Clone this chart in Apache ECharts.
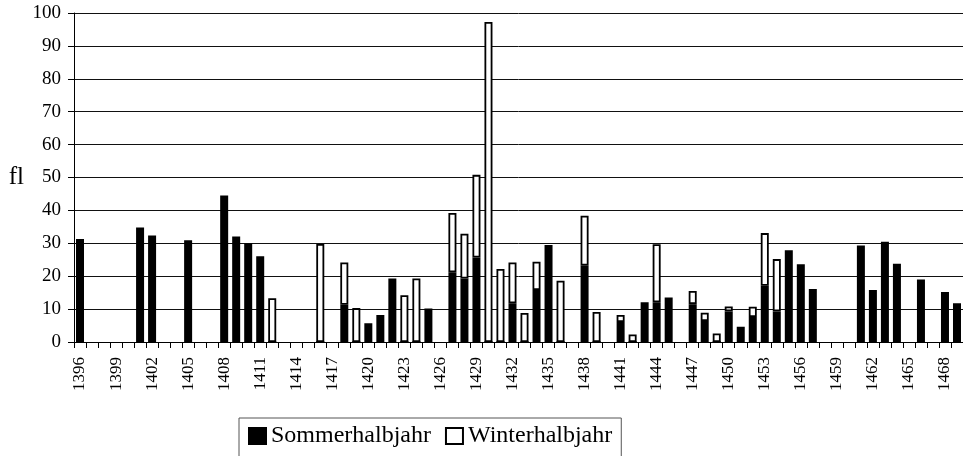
<!DOCTYPE html>
<html>
<head>
<meta charset="utf-8">
<script src="https://cdn.jsdelivr.net/npm/echarts@6/dist/echarts.min.js"></script>
<style>
html,body{margin:0;padding:0;background:#fff;}
#c{width:963px;height:456px;}
</style>
</head>
<body>
<div id="c"></div>
<script>
var years = [];
for (var y = 1396; y <= 1469; y++) years.push(String(y));

var sommer = [
  31.3, null, null, null, null, 34.8, 32.4, null, null, 30.9,
  null, null, 44.5, 32.1, 30.0, 26.1, 0, null, null, null,
  0, null, 11.3, 0, 5.7, 8.2, 19.3, 0, 0, 10.2,
  null, 21.2, 19.3, 25.7, 0, 0, 11.8, 0, 15.8, 29.5,
  0, null, 23.2, 0, null, 6.1, 0, 12.1, 12.1, 13.5,
  null, 11.5, 6.4, 0, 9.3, 4.6, 7.6, 17.1, 9.3, 27.9,
  23.6, 16.1, null, null, null, 29.3, 15.8, 30.5, 23.8, null,
  19.0, null, 15.2, 11.8
];
var winter = [
  null, null, null, null, null, null, null, null, null, null,
  null, null, null, null, null, null, 13.3, null, null, null,
  29.8, null, 12.9, 10.3, null, null, null, 14.2, 19.3, null,
  null, 18.0, 13.6, 25.1, 97.3, 22.2, 12.4, 8.8, 8.6, null,
  18.6, null, 15.2, 9.1, null, 2.1, 2.3, null, 17.6, null,
  null, 4.0, 2.5, 2.6, 1.5, null, 3.1, 16.0, 15.9, null,
  null, null, null, null, null, null, null, null, null, null,
  null, null, null, null
];
var yTicks = {min: 0, max: 100, interval: 10};

var serif = "'Liberation Serif', 'Times New Roman', serif";
var chart = echarts.init(document.getElementById('c'));
chart.setOption({
  animation: false,
  backgroundColor: '#fff',
  grid: {left: 74, top: 13, width: 889, height: 329, containLabel: false},
  legend: {
    left: 239, top: 418,
    padding: [6, 9, 12, 9],
    borderColor: '#555', borderWidth: 1,
    itemWidth: 17, itemHeight: 16, itemGap: 14,
    textStyle: {fontFamily: serif, fontSize: 24, color: '#000'},
    data: [{name: 'Sommerhalbjahr', icon: 'rect'}, {name: 'Winterhalbjahr', icon: 'rect'}]
  },
  xAxis: {
    type: 'category', data: years, boundaryGap: true,
    axisLine: {lineStyle: {color: '#000', width: 1}},
    axisTick: {show: true, interval: 0, length: 6, lineStyle: {color: '#000'}},
    axisLabel: {interval: 2, rotate: 90, margin: 15, fontFamily: serif, fontSize: 17, color: '#000'},
    splitLine: {show: false}
  },
  yAxis: {
    type: 'value', min: yTicks.min, max: yTicks.max, interval: yTicks.interval,
    name: 'fl', nameLocation: 'middle', nameRotate: 0, nameGap: 50,
    nameTextStyle: {fontFamily: serif, fontSize: 25, color: '#000'},
    axisLine: {show: true, lineStyle: {color: '#000', width: 1}},
    axisTick: {show: true, length: 6, lineStyle: {color: '#000'}},
    axisLabel: {margin: 13, fontFamily: serif, fontSize: 19, color: '#000'},
    splitLine: {show: true, lineStyle: {color: '#111', width: 1}}
  },
  series: [
    {name: 'Sommerhalbjahr', type: 'bar', stack: 's', data: sommer, barWidth: 8,
     itemStyle: {color: '#000', borderColor: '#000', borderWidth: 1.8}},
    {name: 'Winterhalbjahr', type: 'bar', stack: 's', data: winter, barWidth: 8,
     itemStyle: {color: '#fff', borderColor: '#000', borderWidth: 1.8}}
  ]
});
</script>
</body>
</html>
